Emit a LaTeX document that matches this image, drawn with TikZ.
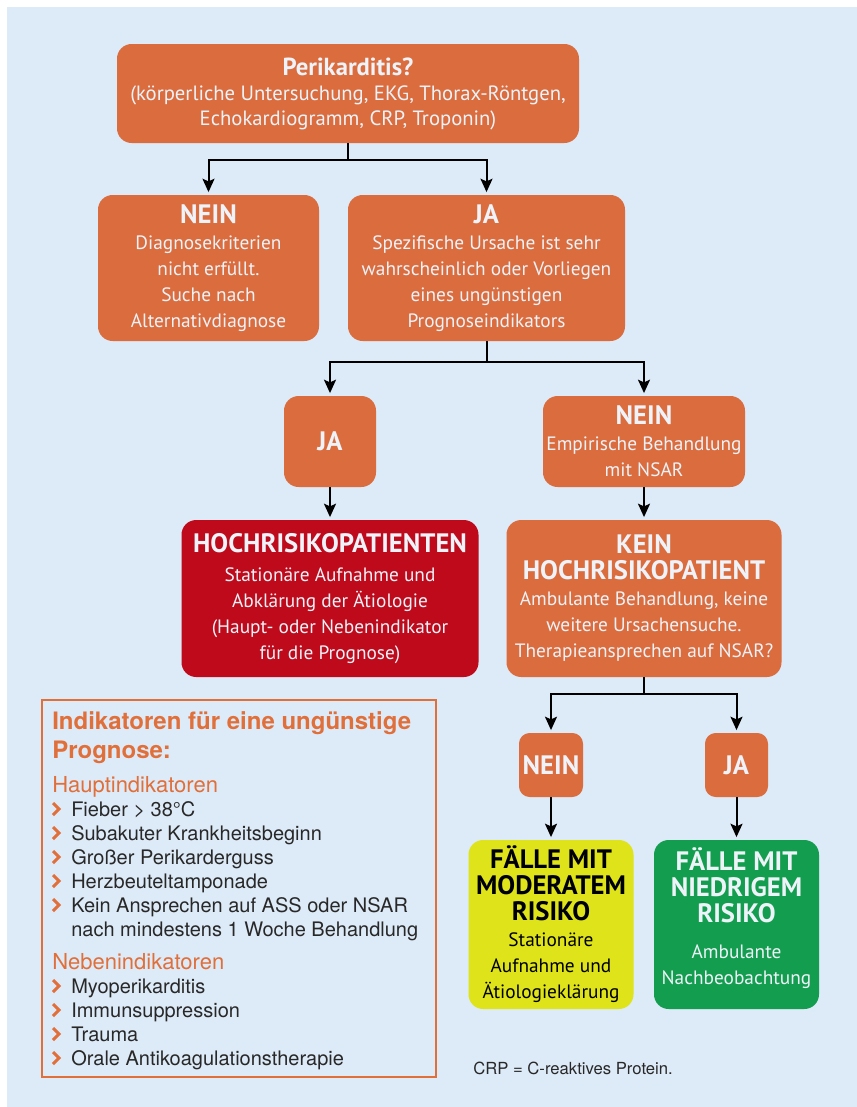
\documentclass[tikz,border=0pt]{standalone}
\usepackage{fontspec}
\setmainfont{PT Sans}
\newfontfamily\helv{TeX Gyre Heros}
\usetikzlibrary{arrows.meta}

\definecolor{bgblue}{RGB}{221,234,247}
\definecolor{orng}{RGB}{219,108,62}
\definecolor{rd}{RGB}{191,10,27}
\definecolor{ylw}{RGB}{222,227,26}
\definecolor{grn}{RGB}{19,158,79}
\definecolor{boxtxt}{RGB}{238,243,249}
\definecolor{indorng}{RGB}{224,111,58}
\definecolor{itemtxt}{RGB}{40,40,40}

\newcommand{\hd}[1]{{\bfseries\fontsize{20}{19.5}\selectfont #1}}

\begin{document}
\begin{tikzpicture}[x=0.75pt,y=0.75pt,yscale=-1,xscale=1,
  box/.style={rounded corners=11pt,inner sep=0pt,align=center,text=boxtxt,font=\fontsize{14.5}{19.5}\selectfont},
  obox/.style={box,fill=orng},
  arr/.style={line width=1.5pt,-{Stealth[length=10pt,width=9pt,inset=2pt]},shorten >=2pt},
  chev/.style={indorng,line width=2.2pt},
  item/.style={anchor=base west,inner sep=0pt,text=itemtxt,font=\helv\fontsize{15}{18}\selectfont},
  sub/.style={anchor=base west,inner sep=0pt,text=indorng,font=\helv\fontsize{16.5}{18}\selectfont}]
\useasboundingbox (0,0) rectangle (857,1107);
\fill[white] (0,0) rectangle (857,1107);
%Shape: Rectangle
\fill[bgblue] (7,7) rectangle (857,1107);

%Rounded Rect
\node (top) [obox,minimum width=346.5pt,minimum height=74.25pt,font=\fontsize{15.5}{18.75}\selectfont] at (348,93.5)
  {{\bfseries\fontsize{18.5}{18.75}\selectfont Perikarditis?}\\(körperliche Untersuchung, EKG, Thorax-Röntgen,\\Echokardiogramm, CRP, Troponin)};
%Rounded Rect
\node (nein1) [obox,minimum width=165.75pt,minimum height=109.5pt] at (208.5,268)
  {\hd{NEIN}\\Diagnosekriterien\\nicht erfüllt.\\Suche nach\\Alternativdiagnose};
%Rounded Rect
\node (ja1) [obox,minimum width=207.75pt,minimum height=109.5pt] at (486.5,268)
  {\hd{JA}\\Spezifische Ursache ist sehr\\wahrscheinlich oder Vorliegen\\eines ungünstigen\\Prognoseindikators};
%Rounded Rect
\node (ja2) [obox,minimum width=69pt,minimum height=68.25pt] at (330,441.5) {\hd{JA}};
%Rounded Rect
\node (nein2) [obox,minimum width=151.5pt,minimum height=68.25pt] at (644,441.5)
  {\hd{NEIN}\\Empirische Behandlung\\mit NSAR};
%Rounded Rect
\node (hoch) [box,fill=rd,minimum width=222.75pt,minimum height=117.75pt] at (330,598.5)
  {\hd{HOCHRISIKOPATIENTEN}\\[2pt]Stationäre Aufnahme und\\Abklärung der Ätiologie\\(Haupt- oder Nebenindikator\\für die Prognose)};
%Rounded Rect
\node (kein) [obox,minimum width=206.25pt,minimum height=117.75pt] at (644,598.5)
  {\hd{KEIN}\\\hd{HOCHRISIKOPATIENT}\\Ambulante Behandlung, keine\\weitere Ursachensuche.\\Therapieansprechen auf NSAR?};
%Rounded Rect
\node (nein3) [obox,rounded corners=8pt,minimum width=48pt,minimum height=48pt] at (551,765) {\hd{NEIN}};
%Rounded Rect
\node (ja3) [obox,rounded corners=8pt,minimum width=47.25pt,minimum height=48pt] at (736.5,765) {\hd{JA}};
%Rounded Rect
\node (moderat) [box,fill=ylw,text=black,minimum width=123.75pt,minimum height=126.75pt] at (551,924.5)
  {\hd{FÄLLE MIT}\\\hd{MODERATEM}\\\hd{RISIKO}\\Stationäre\\Aufnahme und\\Ätiologieklärung};
%Rounded Rect
\node (niedrig) [box,fill=grn,minimum width=123.75pt,minimum height=126.75pt] at (736.5,924.5)
  {\hd{FÄLLE MIT}\\\hd{NIEDRIGEM}\\\hd{RISIKO}\\[8pt]Ambulante\\Nachbeobachtung\\[-7pt]\mbox{}};

%Straight Lines
\draw[arr] (top.south) -- ++(0,17) -| (nein1.north);
\draw[arr] (top.south) -- ++(0,17) -| (ja1.north);
\draw[arr] (ja1.south) -- ++(0,21) -| (ja2.north);
\draw[arr] (ja1.south) -- ++(0,21) -| (nein2.north);
\draw[arr] (ja2.south) -- (hoch.north);
\draw[arr] (nein2.south) -- (kein.north);
\draw[arr] (kein.south) -- ++(0,17) -| (nein3.north);
\draw[arr] (kein.south) -- ++(0,17) -| (ja3.north);
\draw[arr] (nein3.south) -- (moderat.north);
\draw[arr] (ja3.south) -- (niedrig.north);

%Shape: Rectangle
\draw[indorng,line width=1.6pt] (42,700) rectangle (436,1077);

% Text Node
\node (ind1) [anchor=base west,inner sep=0pt,text=indorng,font=\helv\bfseries\fontsize{18}{22}\selectfont] at (52,729) {Indikatoren für eine ungünstige};
% Text Node
\node (ind2) [anchor=base west,inner sep=0pt,text=indorng,font=\helv\bfseries\fontsize{18}{22}\selectfont] at (52,758) {Prognose:};
% Text Node
\node (haupt) [sub] at (52,792) {Hauptindikatoren};
\node (h1) [item] at (71,816) {Fieber > 38°C};
\node (h2) [item] at (71,840) {Subakuter Krankheitsbeginn};
\node (h3) [item] at (71,864) {Großer Perikarderguss};
\node (h4) [item] at (71,888) {Herzbeuteltamponade};
\node (h5) [item] at (71,912) {Kein Ansprechen auf ASS oder NSAR};
\node (h6) [item] at (71,936) {nach mindestens 1 Woche Behandlung};
% Text Node
\node (neben) [sub] at (52,969) {Nebenindikatoren};
\node (n1) [item] at (71,993) {Myoperikarditis};
\node (n2) [item] at (71,1017) {Immunsuppression};
\node (n3) [item] at (71,1041) {Trauma};
\node (n4) [item] at (71,1065) {Orale Antikoagulationstherapie};

%Chevrons
\draw[chev] (53,803) -- (59,809) -- (53,815);
\draw[chev] (53,827) -- (59,833) -- (53,839);
\draw[chev] (53,851) -- (59,857) -- (53,863);
\draw[chev] (53,875) -- (59,881) -- (53,887);
\draw[chev] (53,899) -- (59,905) -- (53,911);
\draw[chev] (53,980) -- (59,986) -- (53,992);
\draw[chev] (53,1004) -- (59,1010) -- (53,1016);
\draw[chev] (53,1028) -- (59,1034) -- (53,1040);
\draw[chev] (53,1052) -- (59,1058) -- (53,1064);

% Text Node
\node (crp) [anchor=base west,inner sep=0pt,text=itemtxt,font=\helv\fontsize{12.5}{15}\selectfont] at (473,1074) {CRP = C-reaktives Protein.};

\end{tikzpicture}
\end{document}
